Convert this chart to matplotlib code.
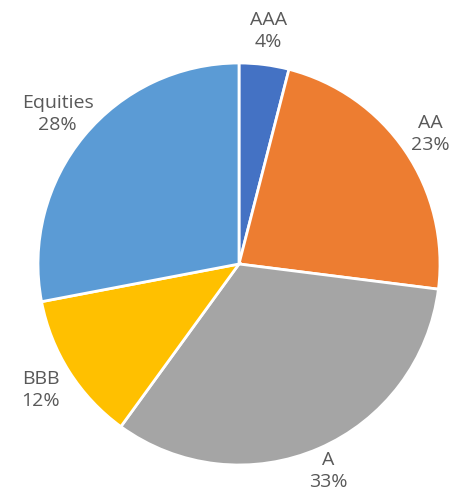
import matplotlib.pyplot as plt

CATEGORIES = ["AAA", "AA", "A", "BBB", "Equities"]
SHARES = [4, 23, 33, 12, 28]
COLORS = ["#4472C4", "#ED7D31", "#A5A5A5", "#FFC000", "#5B9BD5"]

W, H = 452, 495
CX, CY, R = 239, 264, 201  # pie centre and radius in pixels

fig = plt.figure(figsize=(W / 100, H / 100), dpi=100)
ax = fig.add_axes([0, 0, 1, 1])

labels = [f"{c}\n{v}%" for c, v in zip(CATEGORIES, SHARES)]
wedges, texts = ax.pie(
    SHARES, labels=labels, colors=COLORS, startangle=90, counterclock=False,
    labeldistance=1.17, wedgeprops=dict(edgecolor="white", linewidth=2),
    textprops=dict(fontsize=14, color="#595959", family="Open Sans",
                   linespacing=1.3),
)
for t in texts:
    t.set_ha("center")
    t.set_va("center")
# labels near the edges sit a little closer to the pie in the original
for i, k in ((1, 0.985), (2, 0.96)):
    x, y = texts[i].get_position()
    texts[i].set_position((x * k, y * k))

ax.set_aspect("auto")
ax.set_xlim(-CX / R, (W - CX) / R)
ax.set_ylim(-(H - CY) / R, CY / R)
ax.axis("off")

fig.savefig("out.png", dpi=100, facecolor="white")
